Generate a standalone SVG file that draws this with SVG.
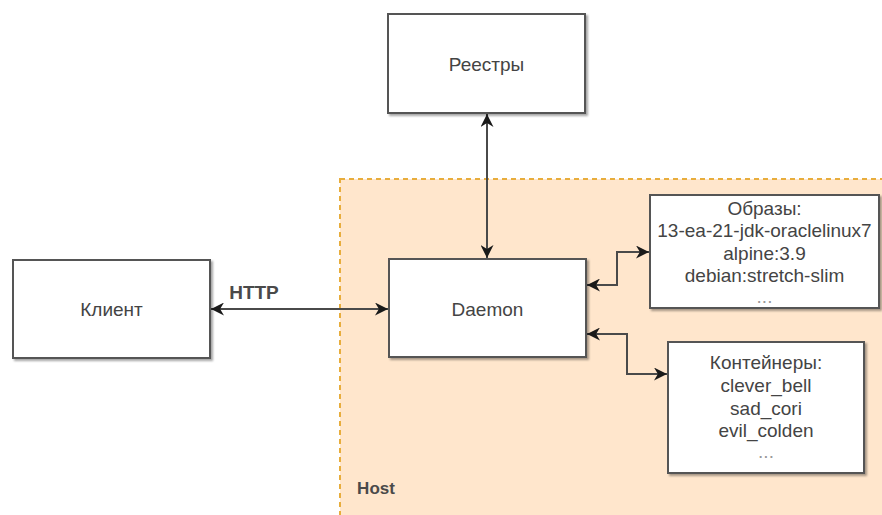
<svg xmlns="http://www.w3.org/2000/svg" width="882" height="515" viewBox="0 0 882 515">
  <style>
    .box { fill: #ffffff; stroke: #555555; stroke-width: 2; filter: url(#shadow); }
    .lbl { font-family: "Liberation Sans", Arial, sans-serif; font-size: 19px; fill: #444444; text-anchor: middle; dominant-baseline: central; }
    .bold { font-weight: bold; fill: #4a4a4a; }
    .dots { fill: #9a9a9a; }
    .conn { fill: none; stroke: #4a4a4a; stroke-width: 2; marker-start: url(#arrS); marker-end: url(#arrE); }
  </style>
  <defs>
    <filter id="shadow" x="-10%" y="-10%" width="130%" height="130%">
      <feDropShadow dx="2" dy="2" stdDeviation="1" flood-color="#000000" flood-opacity="0.35"/>
    </filter>
    <marker id="arrE" viewBox="0 0 10 10" refX="10" refY="5" markerWidth="6.5" markerHeight="6.5" orient="auto" markerUnits="strokeWidth">
      <path d="M0,0 L10,5 L0,10 L3,5 Z" fill="#1a1a1a"/>
    </marker>
    <marker id="arrS" viewBox="0 0 10 10" refX="0" refY="5" markerWidth="6.5" markerHeight="6.5" orient="auto" markerUnits="strokeWidth">
      <path d="M10,0 L0,5 L10,10 L7,5 Z" fill="#1a1a1a"/>
    </marker>
  </defs>
  <rect width="882" height="515" fill="#ffffff"/>

  <g id="host">
    <rect x="340" y="179" width="560" height="360" fill="#ffe6cc" stroke="#e8ad3c" stroke-width="2" stroke-dasharray="5 4"/>
    <text class="lbl bold" x="376" y="488" style="font-size:17px">Host</text>
  </g>

  <g id="connectors">
    <path class="conn" d="M487,114 L487,258"/>
    <path class="conn" d="M211,309 L388,309"/>
    <path class="conn" d="M587,285 L617,285 L617,252 L649,252"/>
    <path class="conn" d="M587,334 L627,334 L627,374 L667,374"/>
    <text class="lbl bold" x="254" y="292">HTTP</text>
  </g>

  <g id="registry">
    <rect class="box" x="388" y="14" width="197" height="99"/>
    <text class="lbl" x="486.5" y="64">Реестры</text>
  </g>

  <g id="client">
    <rect class="box" x="13" y="260" width="197" height="98"/>
    <text class="lbl" x="111.5" y="309">Клиент</text>
  </g>

  <g id="daemon">
    <rect class="box" x="389" y="259" width="197" height="98"/>
    <text class="lbl" x="487.5" y="309">Daemon</text>
  </g>

  <g id="images">
    <rect class="box" x="650" y="195" width="229" height="113"/>
    <text class="lbl" x="764.5" y="208">Образы:</text>
    <text class="lbl" x="764.5" y="230">13-ea-21-jdk-oraclelinux7</text>
    <text class="lbl" x="764.5" y="253">alpine:3.9</text>
    <text class="lbl" x="764.5" y="275">debian:stretch-slim</text>
    <text class="lbl dots" x="764.5" y="296">...</text>
  </g>

  <g id="containers">
    <rect class="box" x="668" y="342" width="196" height="131"/>
    <text class="lbl" x="766" y="362">Контейнеры:</text>
    <text class="lbl" x="766" y="385">clever_bell</text>
    <text class="lbl" x="766" y="408">sad_cori</text>
    <text class="lbl" x="766" y="430">evil_colden</text>
    <text class="lbl dots" x="766" y="451">...</text>
  </g>
</svg>
